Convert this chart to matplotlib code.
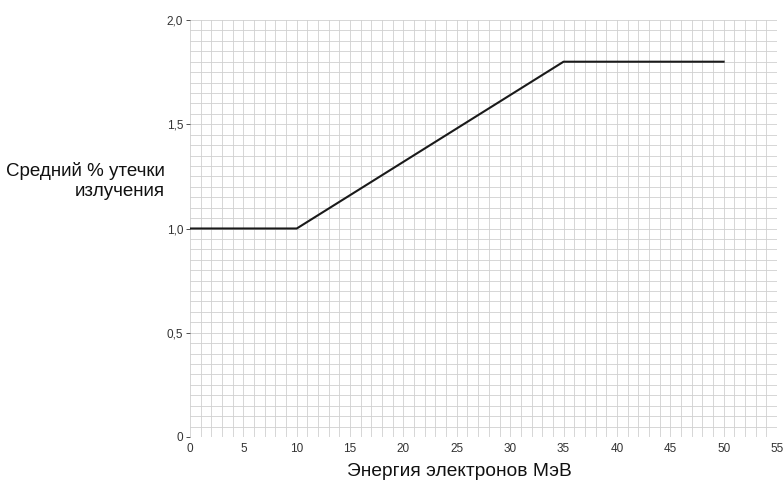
import numpy as np
import matplotlib.pyplot as plt
from matplotlib.ticker import MultipleLocator, FuncFormatter

plt.rcParams['font.family'] = ['Liberation Sans', 'DejaVu Sans']

# Данные: энергия электронов (МэВ) и средний % утечки
energy = [0, 10, 35, 50]
leak = [1.0, 1.0, 1.8, 1.8]

xticks = [0, 5, 10, 15, 20, 25, 30, 35, 40, 45, 50, 55]
yticks = [0, 0.5, 1.0, 1.5, 2.0]


def yfmt(v, pos):
    if v == 0:
        return '0'
    return f'{v:.1f}'.replace('.', ',')


fig = plt.figure(figsize=(7.83, 4.8), dpi=100)
ax = fig.add_axes([0.2427, 0.0896, 0.7496, 0.8687])

ax.plot(energy, leak, color='#1a1a1a', linewidth=1.5, zorder=3)

ax.set_xlim(0, 55)
ax.set_ylim(0, 2.0)
ax.set_xticks(xticks)
ax.set_yticks(yticks)
ax.yaxis.set_major_formatter(FuncFormatter(yfmt))
ax.xaxis.set_minor_locator(MultipleLocator(1))
ax.yaxis.set_minor_locator(MultipleLocator(0.05))
ax.grid(which='both', color='#d0d0d0', linewidth=0.6)
ax.set_axisbelow(True)
for s in ax.spines.values():
    s.set_visible(False)

ax.tick_params(axis='both', which='minor', length=0)
ax.tick_params(axis='x', which='major', length=0, labelsize=8.5, colors='#333333', pad=4)
ax.tick_params(axis='y', which='major', length=3, width=0.6, labelsize=8.5, colors='#333333', pad=2)

fig.text(0.211, 0.623, 'Средний % утечки\nизлучения', ha='right', va='center',
         multialignment='right', fontsize=13.5, color='#111111', linespacing=1.3)
fig.text(0.587, 0.018, 'Энергия электронов МэВ', ha='center', va='center',
         fontsize=13.8, color='#111111')

fig.savefig('out.png', dpi=100)
